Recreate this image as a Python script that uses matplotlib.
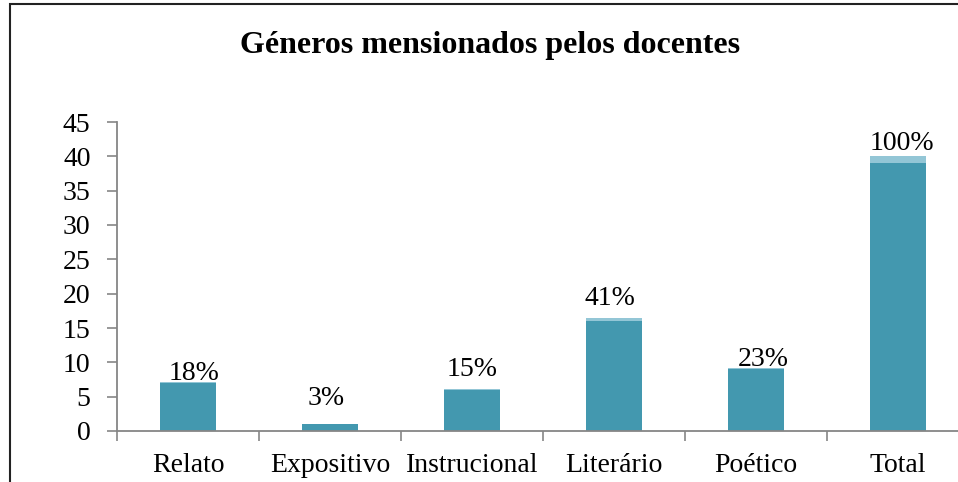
import matplotlib.pyplot as plt
from matplotlib.patches import Rectangle
import numpy as np

# dados
categorias = ["Relato", "Expositivo", "Instrucional", "Literário", "Poético", "Total"]
contagens = [7, 1, 6, 16, 9, 39]
percentagens = [0.18, 0.03, 0.15, 0.41, 0.23, 1.00]
rotulos = ["18%", "3%", "15%", "41%", "23%", "100%"]

# posição dos rótulos (ajuste manual, como no original)
rotulo_dx = [0.04, -0.03, 0.0, -0.03, 0.05, 0.03]
rotulo_y = [8.4, 4.7, 8.9, 19.3, 10.4, 41.8]

escuro = "#4398AF"
claro = "#93C6D6"
cinza = "#868686"
fonte = "Liberation Serif"

fig = plt.figure(figsize=(9.58, 4.82), dpi=100)
ax = fig.add_axes([117 / 958, 1 - 431 / 482, 852 / 958, 309 / 482])

x = np.arange(len(categorias))
ax.bar(x, contagens, width=0.4, color=escuro, zorder=2)
ax.bar(x, percentagens, width=0.4, bottom=contagens, color=claro, zorder=2)

for i, r in enumerate(rotulos):
    ax.text(x[i] + rotulo_dx[i], rotulo_y[i], r, ha="center", va="center",
            fontsize=20, family=fonte, zorder=3)

ax.set_xlim(-0.5, 5.5)
ax.set_ylim(0, 45)
ax.set_yticks(range(0, 46, 5))
ax.set_xticks(x)
ax.set_xticklabels(categorias)
ax.set_xticks(np.arange(-0.5, 6, 1), minor=True)
ax.tick_params(axis="x", which="major", length=0, pad=16)
ax.tick_params(axis="x", which="minor", length=7, color=cinza, width=1.2, direction="out")
ax.tick_params(axis="y", length=7, color=cinza, width=1.2, pad=12)
for lab in ax.get_xticklabels() + ax.get_yticklabels():
    lab.set_fontfamily(fonte)
    lab.set_fontsize(20)

for s in ["top", "right"]:
    ax.spines[s].set_visible(False)
for s in ["left", "bottom"]:
    ax.spines[s].set_color(cinza)
    ax.spines[s].set_linewidth(1.3)

fig.text(490 / 958, 1 - 45 / 482, "Géneros mensionados pelos docentes", ha="center", va="center",
         fontsize=23, fontweight="bold", family=fonte)

# moldura do gráfico
fig.patches.append(Rectangle((10 / 958, -0.1), 1.2, 1 - 4 / 482 + 0.1, transform=fig.transFigure,
                             fill=False, edgecolor="#222222", linewidth=1.5))

fig.savefig("out.png", dpi=100)
